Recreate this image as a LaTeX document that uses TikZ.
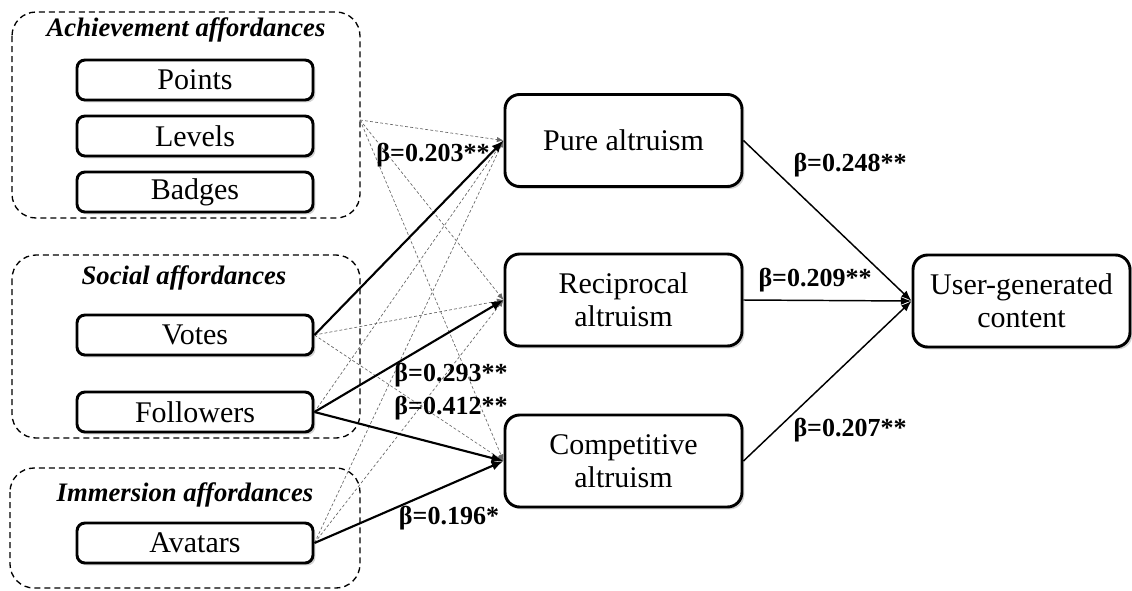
\documentclass[tikz,border=0pt]{standalone}
\usepackage{fontspec}
\setmainfont{Liberation Serif}
\usetikzlibrary{arrows.meta,shadows}
\begin{document}
\begin{tikzpicture}[x=0.75pt,y=-0.75pt,
  grp/.style={draw, dashed, dash pattern=on 4.5pt off 3pt, line width=1pt, rounded corners=18pt},
  grptitle/.style={font=\fontsize{20}{24}\selectfont\bfseries\itshape},
  item/.style={draw, line width=2.2pt, rounded corners=6pt, fill=white, minimum width=177pt, minimum height=30pt, inner sep=0pt,
    font=\fontsize{22.5}{25}\selectfont, drop shadow={opacity=0.35, shadow xshift=1.8pt, shadow yshift=-1.8pt}},
  med/.style={draw, line width=2.2pt, rounded corners=11pt, fill=white, minimum width=177.75pt, minimum height=69pt, inner sep=0pt,
    align=center, font=\fontsize{22.5}{25}\selectfont, drop shadow={opacity=0.35, shadow xshift=1.8pt, shadow yshift=-1.8pt}},
  sig/.style={line width=1.6pt, -{Latex[length=9pt,width=7pt]}},
  outpath/.style={line width=1.1pt, -{Latex[length=8pt,width=6pt]}},
  ns/.style={draw=black!60, line width=0.5pt, dash pattern=on 2.2pt off 1.6pt, -{Latex[length=5pt,width=4pt]}},
  coef/.style={font=\fontsize{19.5}{22}\selectfont\bfseries, inner sep=0pt}
]
\useasboundingbox (0,0) rectangle (1132,590);

% group boxes
\draw[grp] (12,12) rectangle (360,218);
\draw[grp] (12,255) rectangle (360,438);
\draw[grp] (10,468) rectangle (360,588);
\node[grptitle] (tach) at (186,30) {Achievement affordances};
\node[grptitle] (tsoc) at (184,278) {Social affordances};
\node[grptitle] (timm) at (185,495) {Immersion affordances};

% items
\node[item] (points) at (195,80) {Points};
\node[item] (levels) at (195,136) {Levels};
\node[item] (badges) at (195,192) {Badges};
\node[item] (votes) at (195,335) {Votes};
\node[item] (followers) at (195,412) {Followers};
\node[item] (avatars) at (195,543) {Avatars};
\coordinate (achP) at (360,120);

% mediators
\node[med] (pure) at (623.5,140.5) {Pure altruism};
\node[med] (recip) at (623.5,300) {Reciprocal\\altruism};
\node[med] (comp) at (623.5,461) {Competitive\\altruism};
\node[med, minimum width=162.75pt] (ugc) at (1021.5,301) {User-generated\\content};

% non-significant paths
\draw[ns] (achP) -- (pure.west);
\draw[ns] (achP) -- (recip.west);
\draw[ns] (achP) -- (comp.west);
\draw[ns] (votes.east) -- (recip.west);
\draw[ns] (votes.east) -- (comp.west);
\draw[ns] (followers.east) -- (pure.west);
\draw[ns] (avatars.east) -- (pure.west);
\draw[ns] (avatars.east) -- (recip.west);

% significant paths
\draw[sig] (votes.east) -- (pure.west);
\draw[sig] (followers.east) -- (recip.west);
\draw[sig] (followers.east) -- (comp.west);
\draw[sig] (avatars.east) -- (comp.west);

\draw[outpath] (pure.east) -- (ugc.west);
\draw[outpath] (recip.east) -- (ugc.west);
\draw[outpath] (comp.east) -- (ugc.west);

% coefficients
\node[coef] (c1) at (433,155) {β=0.203**};
\node[coef] (c2) at (451,375) {β=0.293**};
\node[coef] (c3) at (451,408) {β=0.412**};
\node[coef] (c4) at (449,518) {β=0.196*};
\node[coef] (c5) at (850,165) {β=0.248**};
\node[coef] (c6) at (815,280) {β=0.209**};
\node[coef] (c7) at (850,430) {β=0.207**};
\end{tikzpicture}
\end{document}
